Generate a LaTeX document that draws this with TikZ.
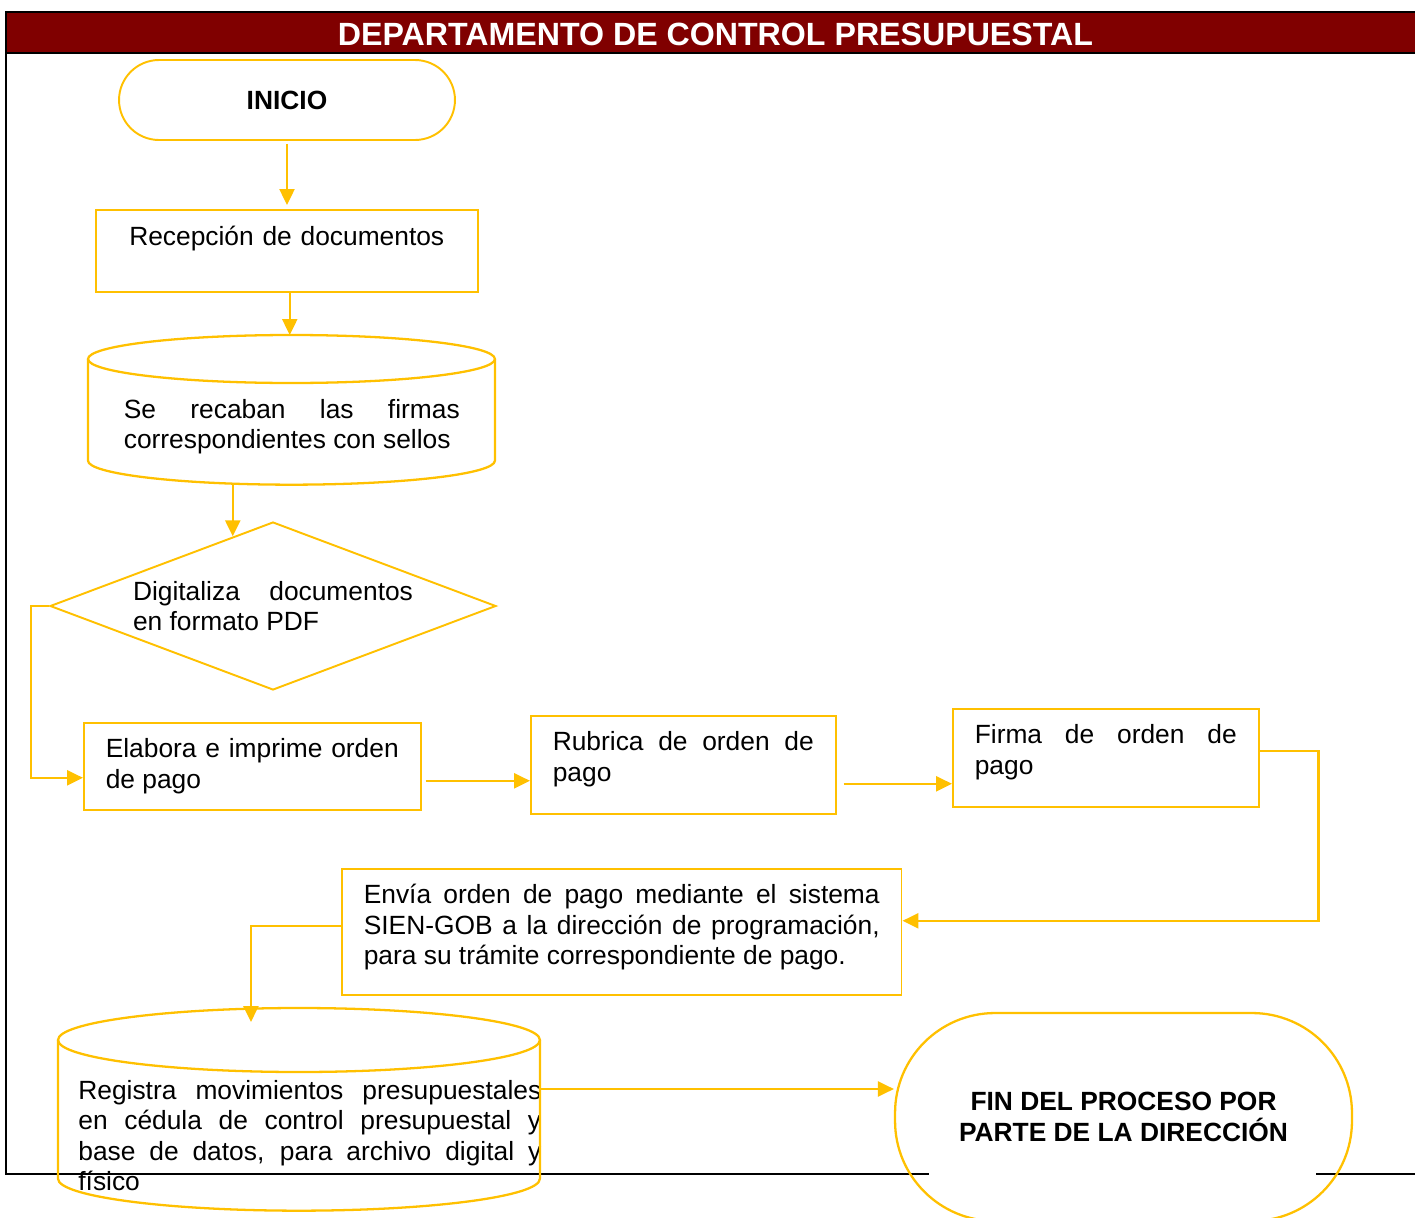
\documentclass[tikz,border=0pt]{standalone}
\usepackage{fontspec}
\setmainfont{Liberation Sans}
\usetikzlibrary{arrows.meta,positioning,shapes.geometric,calc}
\definecolor{amber}{HTML}{FFC000}
\definecolor{titlered}{HTML}{800000}
\tolerance=9999
\hyphenpenalty=10000
\exhyphenpenalty=10000

% cylinder outline round a node: node, x radius, y radius
\newcommand{\drum}[3]{%
  \draw[drumline] ([xshift=#2,yshift=-#3]#1.north west) ellipse [x radius=#2, y radius=#3];
  \draw[drumline] ([yshift=-#3]#1.north west) -- ([yshift=#3]#1.south west)
    arc [start angle=180, end angle=360, x radius=#2, y radius=#3]
    -- ([xshift=2*#2,yshift=-#3]#1.north west);}

\begin{document}
\begin{tikzpicture}[x=0.02cm, y=-0.02cm,
    txt/.style={font=\fontsize{15}{17.3}\selectfont},
    box/.style={txt, draw=amber, line width=0.9pt, anchor=north west,
      inner xsep=0.44cm, inner ysep=0pt, align=justify, text height=0.7cm},
    drumbox/.style={txt, anchor=north west, inner ysep=0pt, align=justify},
    drumline/.style={amber, line width=1.3pt},
    flow/.style={amber, line width=1.4pt, -{Triangle[length=0.32cm,width=0.3cm]}},
    frame/.style={black, line width=1.1pt}]
  \useasboundingbox (0,0) rectangle (1415,1217);
  % Frame and title bar
  \fill[titlered] (6,12) rectangle (1420,53);
  \draw[frame] (1420,12) -- (6,12) -- (6,1174) -- (929,1174);
  \draw[frame] (6,53) -- (1420,53);
  \draw[frame] (1316,1174) -- (1420,1174);
  \node[white, anchor=base, font=\fontsize{18.3}{21}\selectfont\bfseries] (title) at (715.5,45)
    {DEPARTAMENTO DE CONTROL PRESUPUESTAL};
  % Steps
  \node[draw=amber, line width=1.1pt, rounded corners=0.8cm, minimum width=6.72cm,
    minimum height=1.6cm, font=\fontsize{15}{18}\selectfont\bfseries] (ini) at (287,100) {INICIO};
  \node[box, text width=6.76cm, align=center, text height=0.72cm, text depth=0.92cm] (rec) at (95,209)
    {Recepción de documentos};
  \node[drumbox, text width=6.72cm, inner xsep=0.71cm, text height=1.66cm, text depth=1.32cm] (firmas) at (88,335)
    {Se recaban las firmas\linebreak correspondientes con sellos};
  \drum{firmas}{4.07cm}{0.48cm}
  \node[diamond, draw=amber, line width=1.1pt, txt, align=justify, text width=5.6cm, inner sep=0pt,
    aspect=2.65, minimum width=8.92cm, minimum height=3.36cm] (dig) at (273,606)
    {Digitaliza documentos\linebreak en formato PDF};
  \node[box, text width=5.86cm, text depth=1.04cm] (elab) at (83,722) {Elabora e imprime orden\linebreak de pago};
  \node[box, text width=5.22cm, text depth=1.26cm] (rub) at (530,715) {Rubrica de orden de\linebreak pago};
  \node[box, text width=5.24cm, text depth=1.26cm] (firma) at (952,708) {Firma de orden de\linebreak pago};
  \node[box, text width=10.32cm, text depth=1.82cm] (envia) at (341,868)
    {Envía orden de pago mediante el sistema\linebreak SIEN-GOB a la dirección de programación,\linebreak
     para su trámite correspondiente de pago.};
  \node[drumbox, text width=9.26cm, inner xsep=0.4cm, text height=1.82cm, text depth=2.22cm] (reg) at (58,1008)
    {Registra movimientos presupuestales\linebreak en cédula de control presupuestal y\linebreak
     base de datos, para archivo digital y\linebreak físico};
  \drum{reg}{4.82cm}{0.64cm}
  \node[draw=amber, line width=1.3pt, rounded corners=2cm, minimum width=9.14cm, minimum height=4.16cm,
    align=center, font=\fontsize{15}{17.6}\selectfont\bfseries] (fin) at (1123.5,1117)
    {FIN DEL PROCESO POR\\PARTE DE LA DIRECCIÓN};
  % Connectors
  \draw[flow, shorten <=0.06cm, shorten >=0.08cm] (ini.south) -- (ini.south |- rec.north);
  \draw[flow] ([xshift=0.06cm]rec.south) -- ([xshift=0.06cm]rec.south |- firmas.north);
  \draw[flow] (firmas.south -| dig.120) -- (dig.120);
  \draw[flow] (dig.west) -- ++(-18,0) |- ([yshift=-0.23cm]elab.west);
  \draw[flow, shorten <=0.08cm] ([yshift=-0.29cm]elab.east) -- ([yshift=-0.29cm]elab.east -| rub.west);
  \draw[flow, shorten <=0.14cm] ([yshift=-0.38cm]rub.east) -- ([yshift=-0.38cm]rub.east -| firma.west);
  \draw[flow] ([yshift=0.14cm]firma.east) -- ++(59,0) |- ([yshift=0.22cm]envia.east);
  \coordinate (regin) at ([xshift=3.86cm,yshift=-0.28cm]reg.north west);
  \draw[flow] ([yshift=0.12cm]envia.west) -| (regin);
  \coordinate (regout) at ([xshift=9.64cm,yshift=-1.62cm]reg.north west);
  \draw[flow] (regout) -- (regout -| fin.west);
\end{tikzpicture}
\end{document}
